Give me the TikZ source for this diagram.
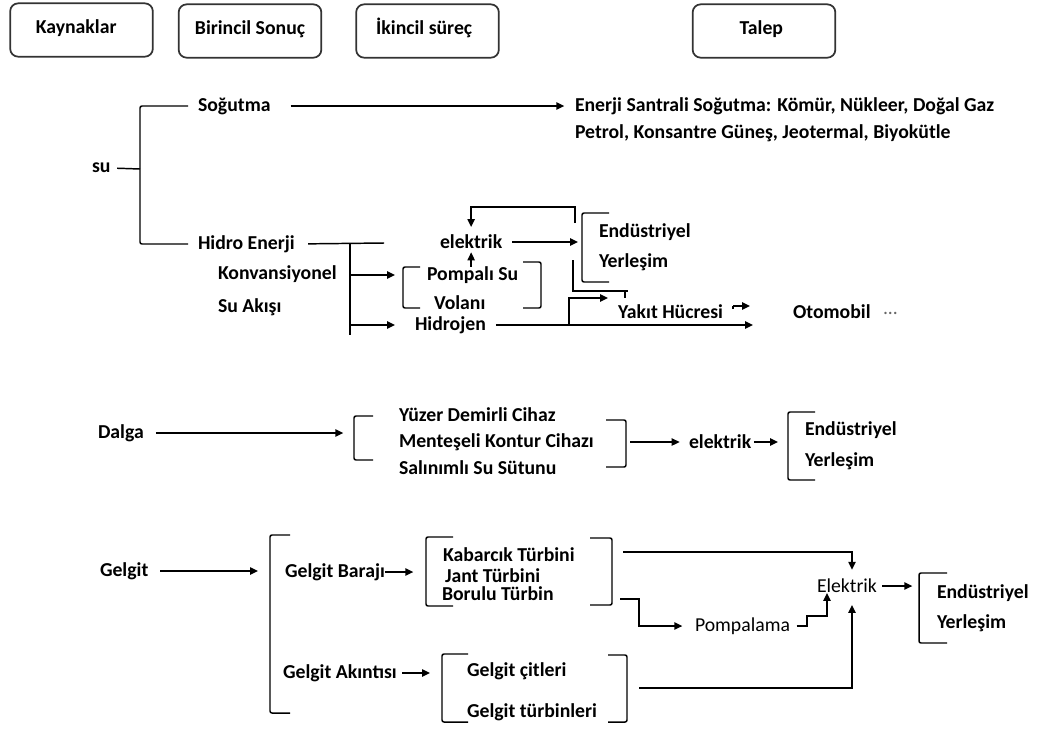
\documentclass[tikz,border=0pt]{standalone}
\usepackage{fontspec}
\setmainfont{Carlito}
\usepackage{tikz}
\usetikzlibrary{arrows.meta}

\begin{document}
\begin{tikzpicture}[x=0.75pt,y=-0.75pt,line width=1.1pt,
  every node/.style={inner sep=0pt,outer sep=0pt,font=\bfseries\fontsize{14.8}{17}\selectfont}]
\tikzstyle{hdr}=[draw=black!80,line width=1.3pt,rounded corners=6pt,minimum width=107pt,minimum height=40pt,text height=10pt,text depth=5pt]
\tikzstyle{lbl}=[anchor=west]
\tikzstyle{plain}=[anchor=west,font=\fontsize{14.8}{17}\selectfont]
\tikzstyle{arr}=[-{Triangle[length=6pt,width=5.5pt]}]
\tikzstyle{brk}=[rounded corners=1.5pt]

\useasboundingbox (0,0) rectangle (1037,729);

\node[hdr] (kay) at (81.5,30) {Kaynaklar\hspace*{8pt}};
\node[hdr] (bir) at (250,31) {Birincil Sonuç};
\node[hdr] (iki) at (427.5,31) {İkincil süreç\hspace*{5pt}};
\node[hdr] (tal) at (764,31) {Talep\hspace*{4pt}};

\node[lbl] (su) at (92,168) {su};
\node[lbl] (sog) at (198,106) {Soğutma};
\node[lbl] (ens) at (575,106) {Enerji Santrali Soğutma: Kömür, Nükleer, Doğal Gaz};
\node[lbl] (pet) at (575,133) {Petrol, Konsantre Güneş,  Jeotermal, Biyokütle};
\node[lbl] (hid) at (198,244) {Hidro Enerji};
\node[lbl] (kon) at (218,274) {Konvansiyonel};
\node[lbl] (sak) at (218,307) {Su Akışı};
\coordinate (suj) at (140,169);
\draw[shorten <=5pt] (su.east) -- (suj);
\draw[brk] ([xshift=-7.5pt]sog.west) -- (sog.west -| suj) -- (hid.west -| suj) -- ([xshift=-7.5pt]hid.west);
\draw[arr,shorten <=15pt,shorten >=8pt] (sog.east) -- (ens.west);

\coordinate (hj) at (350,243);
\coordinate (hb) at (350,335);
\coordinate (hr) at (384,243);
\draw[shorten <=10pt] (hid.east) -- (hr);
\draw (hj) -- (hb);

\node[lbl] (pom) at (427,275) {Pompalı Su};
\node[lbl] (vol) at (434,303) {Volanı};
\draw[brk] (420,267) -- (403,267) -- (403,308) -- (420,308);
\draw[brk] (523,262) -- (541,262) -- (541,308) -- (523,308);
\coordinate (pbl) at (403,287);
\draw[arr,shorten >=6pt] (hj |- pom.west) -- (pbl |- pom.west);

\node[lbl] (hyd) at (415,325) {Hidrojen};
\draw[arr,shorten >=15pt] (hj |- hyd.west) -- (hyd.west);

\node[lbl] (el1) at (440,242) {elektrik};
\draw[arr,shorten >=2.5pt] (el1.south |- pom.north) -- (el1.south);
\coordinate (eb) at (582,247);
\draw[arr,shorten <=7.5pt,shorten >=3pt] (el1.east) -- (el1.east -| eb);
\draw[brk] (609,213) -- (582,213) -- (582,282) -- (609,282);
\node[lbl] (end1) at (599,232) {Endüstriyel};
\node[lbl] (yer1) at (599,262) {Yerleşim};
\coordinate (fa) at (575,223);
\coordinate (fb) at (575,207);
\draw[arr,shorten >=6pt] (fa) -- (fb) -- (fb -| el1.north) -- (el1.north);

\node[lbl] (yak) at (618,312) {Yakıt Hücresi};
\coordinate (ya) at (573,260);
\coordinate (yb) at (573,291);
\coordinate (yc) at (628,291);
\coordinate (yt) at (625,291);
\draw (ya) -- (yb) -- (yc);
\draw (yt) -- ++(0,7);
\coordinate (br) at (569,324);
\coordinate (bru) at (569,298);
\draw[arr,shorten >=7.5pt] (br) -- (bru) -- (bru -| yak.west);
\coordinate (yk1) at (733,306);
\coordinate (yk2) at (750,306);
\draw (yk1) -- ++(0,3);
\draw[arr] (yk1) -- (yk2);

\node[lbl] (oto) at (793,312) {Otomobil};
\node[plain,text=black!60] (dot) at (883,313) {...};
\coordinate (oto0) at (753,324);
\draw[arr,shorten <=7.5pt] (hyd.east) -- (hyd.east -| oto0);

\node[lbl] (dal) at (98,433) {Dalga};
\coordinate (dl) at (354,438);
\draw[arr,shorten <=9pt,shorten >=8pt] (dal.east) -- (dal.east -| dl);
\draw[brk] (373,416) -- (354,416) -- (354,460) -- (373,460);
\node[lbl] (yuz) at (399,415) {Yüzer Demirli Cihaz};
\node[lbl] (men) at (399,442) {Menteşeli Kontur Cihazı};
\node[lbl] (sal) at (399,468) {Salınımlı Su Sütunu};
\draw[brk] (606,420) -- (626,420) -- (626,467) -- (606,467);
\node[lbl] (el2) at (689,442) {elektrik};
\coordinate (dr) at (626,442);
\draw[arr,shorten <=3pt,shorten >=7pt] (dr) -- (el2.west);
\coordinate (eb2) at (788,446);
\draw[arr,shorten <=2pt,shorten >=7.5pt] (el2.east) -- (el2.east -| eb2);
\draw[brk] (815,412) -- (788,412) -- (788,480) -- (815,480);
\node[lbl] (end2) at (805,430) {Endüstriyel};
\node[lbl] (yer2) at (805,461) {Yerleşim};

\node[lbl] (gel) at (100,571) {Gelgit};
\coordinate (gb) at (270,624);
\draw[arr,shorten <=9pt,shorten >=9pt] (gel.east) -- (gel.east -| gb);
\draw[brk] (290,535) -- (270,535) -- (270,713) -- (290,713);

\node[lbl] (bar) at (285,572) {Gelgit Barajı};
\coordinate (kb) at (426,572);
\draw[arr,shorten >=9.5pt] (bar.east) -- (bar.east -| kb);
\draw[brk] (453,537) -- (426,537) -- (426,606) -- (453,606);
\draw[brk] (590,538) -- (612,538) -- (612,605) -- (590,605);
\node[lbl] (kab) at (443,555) {Kabarcık Türbini};
\node[lbl] (jan) at (445,576) {Jant Türbini};
\node[lbl] (bor) at (442,594) {Borulu Türbin};

\node[lbl] (aki) at (283,673) {Gelgit Akıntısı};
\coordinate (cb) at (442,673);
\draw[arr,shorten <=4pt,shorten >=9pt] (aki.east) -- (aki.east -| cb);
\draw[brk] (468,654) -- (442,654) -- (442,722) -- (468,722);
\draw[brk] (608,655) -- (627,655) -- (627,722) -- (608,722);
\node[lbl] (cit) at (467,671) {Gelgit çitleri};
\node[lbl] (tur) at (467,712) {Gelgit türbinleri};

\node[plain] (el3) at (817,586) {Elektrik};
\node[plain] (pmp) at (695,626) {Pompalama};
\coordinate (ex) at (852,586);
\coordinate (tp) at (623,552);
\draw[arr,shorten >=7pt] (tp) -- (tp -| ex) -- (ex |- el3.north);
\coordinate (bt) at (639,688);
\draw[arr,shorten >=9pt] (bt) -- (bt -| ex) -- (ex |- el3.south);
\coordinate (pp1) at (620,599);
\coordinate (pp2) at (639,599);
\draw[arr,shorten >=9.5pt] (pp1) -- (pp2) -- (pp2 |- pmp.west) -- (pmp.west);
\coordinate (pq) at (807,616);
\coordinate (pr) at (827,616);
\draw[arr,shorten <=5pt] (pmp.east) -- (pmp.east -| pq) -- (pq) -- (pr) -- (pr |- el3.south);
\coordinate (eb3) at (919,600);
\draw[arr,shorten <=4pt,shorten >=5pt] (el3.east) -- (el3.east -| eb3);
\draw[brk] (947,573) -- (919,573) -- (919,643) -- (947,643);
\node[lbl] (end3) at (937,593) {Endüstriyel};
\node[lbl] (yer3) at (937,623) {Yerleşim};

\end{tikzpicture}
\end{document}
